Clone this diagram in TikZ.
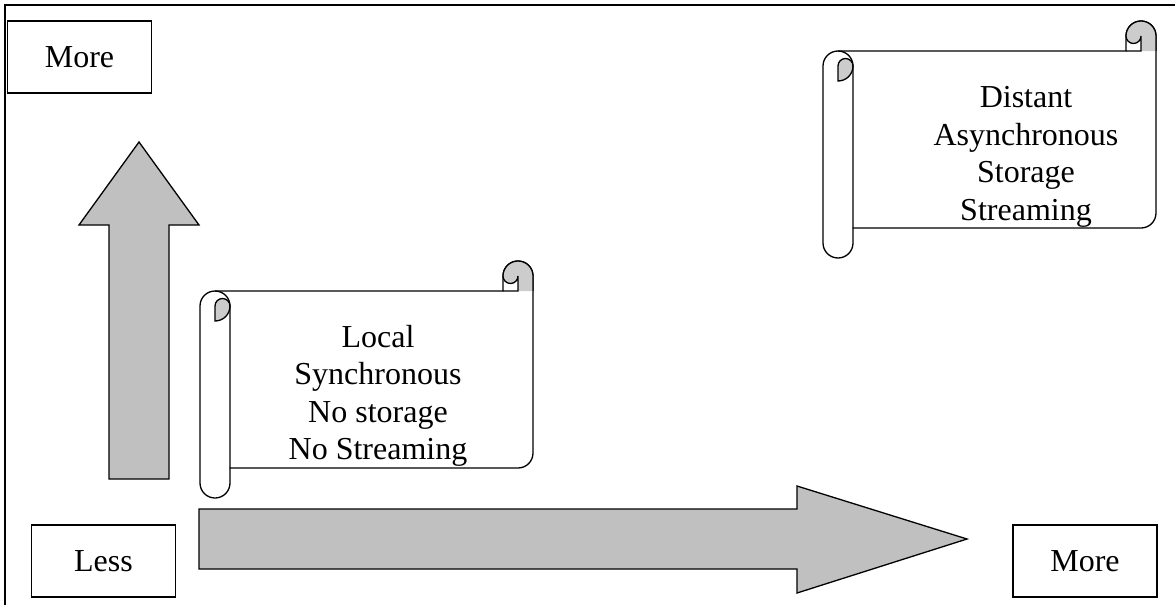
\documentclass[tikz,border=0pt]{standalone}
\usepackage{fontspec}
\setmainfont{Liberation Serif}
\usepackage{tikz}

\definecolor{arrowgray}{RGB}{192,192,192}
\definecolor{curlgray}{RGB}{204,204,204}

\begin{document}
\begin{tikzpicture}[x=1pt, y=-1pt,
  every node/.style={font=\fontsize{32}{37.5}\selectfont, inner sep=0pt, outer sep=0pt},
  labelbox/.style={draw, line width=1.3pt, fill=white, minimum width=144pt, minimum height=72pt},
  scrolltext/.style={align=center},
  blockarrow/.style={draw, line width=1.3pt, fill=arrowgray},
  scrollline/.style={line width=1.3pt}]
\useasboundingbox (0,0) rectangle (1175,605);
\draw[line width=2.2pt] (5,605) -- (5,5) -- (1175,5);

\node[labelbox] (moretop) at (79.5,57) {More};
\node[labelbox] (less) at (103.5,561) {Less};
\node[labelbox] (moreright) at (1085,561) {More};

\draw[blockarrow] (109,479) -- (169,479) -- (169,225) -- (199,225) -- (139,142) -- (79,225) -- (109,225) -- cycle;
\draw[blockarrow] (199,509) -- (797,509) -- (797,486) -- (967,539) -- (797,593) -- (797,569) -- (199,569) -- cycle;

% scroll, 333 x 237
\foreach \ox/\oy in {200/261, 823/21} {
\begin{scope}[shift={(\ox,\oy)}, scrollline]
\filldraw[fill=white] (0,45) arc[start angle=180, end angle=270, radius=15] -- (303,30) -- (303,15)
  arc[start angle=180, end angle=360, radius=15] -- (333,192) arc[start angle=0, end angle=90, radius=15]
  -- (30,207) -- (30,222) arc[start angle=0, end angle=180, radius=15] -- cycle;
\fill[curlgray] (318,15) arc[start angle=0, end angle=180, radius=7.5] arc[start angle=180, end angle=360, radius=15] -- (333,30) -- (318,30) -- cycle;
\draw (303,30) -- (318,30) -- (318,15) arc[start angle=0, end angle=180, radius=7.5]
  arc[start angle=180, end angle=360, radius=15] -- (333,30);
\filldraw[fill=curlgray] (15,45) arc[start angle=180, end angle=360, radius=7.5] arc[start angle=0, end angle=90, radius=15] -- cycle;
\draw (15,30) arc[start angle=270, end angle=360, radius=15] -- (30,207);
\end{scope}
}

\node[scrolltext] (local) at (378,396) {Local\\Synchronous\\No storage\\No Streaming};
\node[scrolltext] (distant) at (1026,157) {Distant\\Asynchronous\\Storage\\Streaming};
\end{tikzpicture}
\end{document}
